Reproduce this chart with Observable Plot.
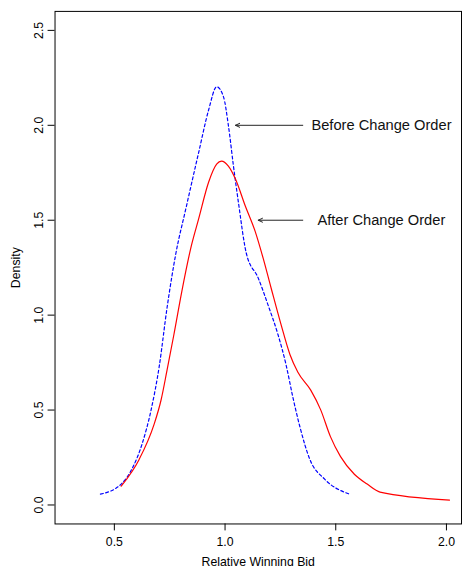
<!DOCTYPE html>
<html>
<head>
<meta charset="utf-8">
<script src="https://cdn.jsdelivr.net/npm/d3@7"></script>
<script src="https://cdn.jsdelivr.net/npm/@observablehq/plot@0.6"></script>
<style>
  html, body { margin: 0; padding: 0; background: #fff; overflow: hidden; }
  #chart svg { display: block; }
</style>
</head>
<body>
<div id="chart"></div>
<script>
// Before change order density curve (blue dashed)
const beforeX = [0.437, 0.531, 0.581, 0.626, 0.666, 0.702, 0.738, 0.778, 0.823, 0.881, 0.926, 0.962, 0.993, 1.015, 1.038, 1.060, 1.096, 1.150, 1.194, 1.239, 1.275, 1.306, 1.338, 1.383, 1.450, 1.562];
const beforeY = [0.057, 0.110, 0.193, 0.324, 0.501, 0.725, 1.039, 1.326, 1.561, 1.858, 2.082, 2.203, 2.150, 2.000, 1.785, 1.597, 1.326, 1.195, 1.054, 0.898, 0.741, 0.569, 0.412, 0.240, 0.136, 0.057];

// After change order density curve (red solid)
const afterX = [0.531, 0.612, 0.679, 0.711, 0.738, 0.769, 0.805, 0.845, 0.881, 0.926, 0.962, 0.984, 1.015, 1.047, 1.091, 1.136, 1.172, 1.208, 1.253, 1.293, 1.329, 1.387, 1.432, 1.476, 1.521, 1.584, 1.642, 1.700, 2.014];
const afterY = [0.099, 0.240, 0.423, 0.553, 0.710, 0.898, 1.127, 1.352, 1.508, 1.701, 1.795, 1.811, 1.785, 1.717, 1.576, 1.441, 1.300, 1.143, 0.950, 0.793, 0.699, 0.605, 0.501, 0.360, 0.256, 0.162, 0.110, 0.068, 0.026];

// Annotations
const annLabels = ["Before Change Order", "After Change Order"];
const annArrowFrom = [1.351, 1.351];
const annArrowTo = [1.047, 1.150];
const annY = [2.0, 1.5];
const annTextX = [1.390, 1.417];

// Axes
const xTicks = [0.5, 1.0, 1.5, 2.0];
const yTicks = [0.0, 0.5, 1.0, 1.5, 2.0, 2.5];
const xLabel = "Relative Winning Bid";
const yLabel = "Density";

const before = beforeX.map((x, i) => ({x, y: beforeY[i]}));
const after = afterX.map((x, i) => ({x, y: afterY[i]}));
const ann = annLabels.map((label, i) => ({label, x1: annArrowFrom[i], x2: annArrowTo[i], y: annY[i], tx: annTextX[i]}));

const font = "'Liberation Sans', Arial, Helvetica, sans-serif";

const chart = Plot.plot({
  width: 466,
  height: 571,
  marginLeft: 55,
  marginRight: 1,
  marginTop: 11,
  marginBottom: 43,
  style: {fontFamily: font, fontSize: "12.4px", color: "#000", background: "#fff", overflow: "visible"},
  x: {domain: [0.232, 2.068]},
  y: {domain: [-0.1, 2.6]},
  marks: [
    Plot.axisX({ticks: xTicks, tickFormat: d3.format(".1f"), tickSize: 7, tickPadding: 6,
      label: xLabel, labelAnchor: "center", labelArrow: "none", labelOffset: 42.5}),
    Plot.axisY({ticks: yTicks, tickFormat: d3.format(".1f"), tickSize: 7, tickPadding: 5, tickRotate: -90,
      label: yLabel, labelAnchor: "center", labelArrow: "none", labelOffset: 44}),
    Plot.line(before, {x: "x", y: "y", stroke: "#0000ff", strokeWidth: 1.2, strokeDasharray: "3,2.5", curve: "monotone-x"}),
    Plot.line(after, {x: "x", y: "y", stroke: "#ff0000", strokeWidth: 1.2, curve: "monotone-x"}),
    Plot.arrow(ann, {x1: "x1", x2: "x2", y1: "y", y2: "y", stroke: "#222", strokeWidth: 1, headLength: 7, headAngle: 50}),
    Plot.text(ann, {x: "tx", y: "y", text: "label", textAnchor: "start", fontSize: 14.8, fill: "#111"}),
    Plot.frame({stroke: "#000", strokeWidth: 1})
  ]
});
document.getElementById("chart").appendChild(chart);
</script>
</body>
</html>
